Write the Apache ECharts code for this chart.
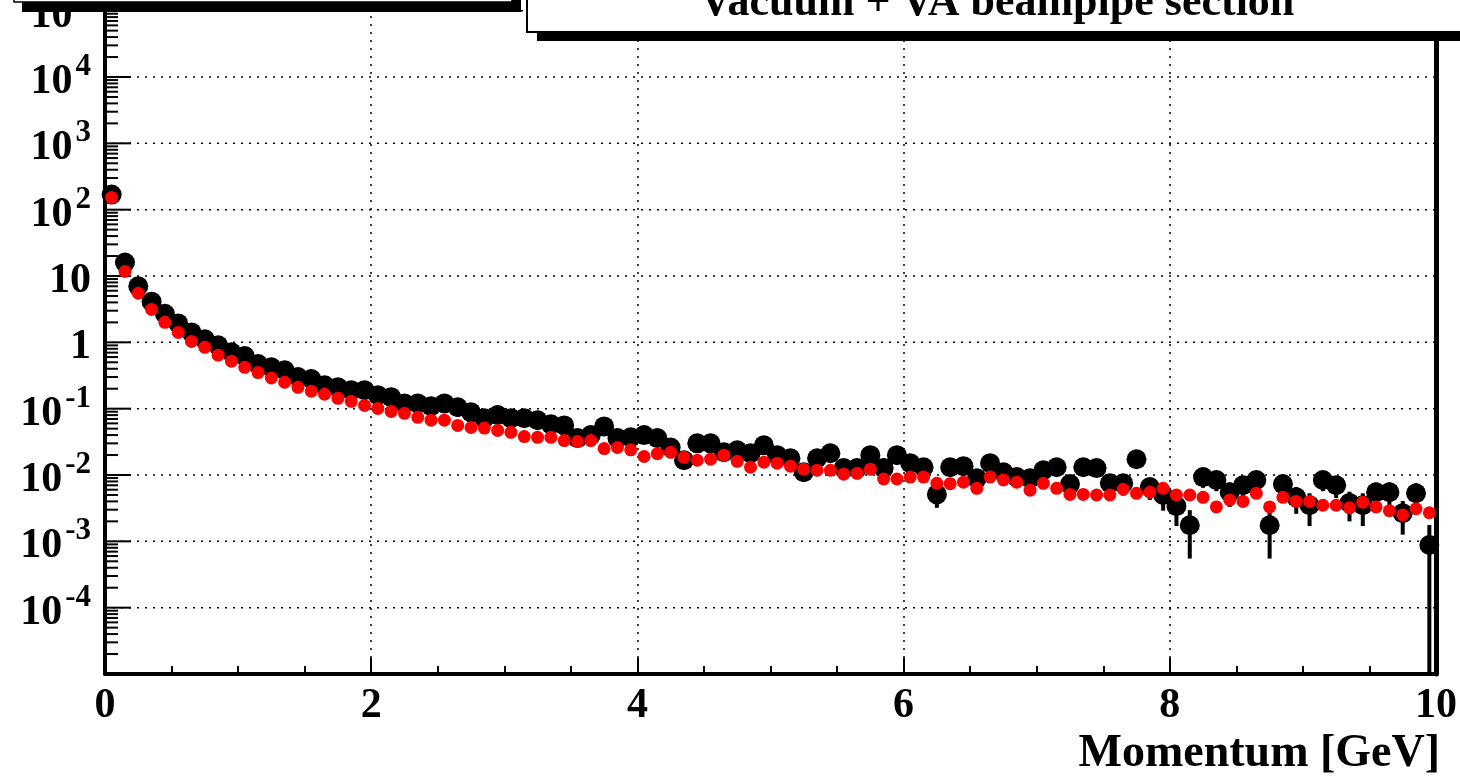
<!DOCTYPE html>
<html><head><meta charset="utf-8">
<script src="https://cdn.jsdelivr.net/npm/echarts@6/dist/echarts.min.js"></script>
<style>html,body{margin:0;padding:0;background:#fff;overflow:hidden}#c{width:1460px;height:777px}</style>
</head><body><div id="c"></div><script>
// Histogram binning (momentum, GeV)
const binLow = 0, binWidth = 0.1;
// Black markers (with statistical error bars)
const black = [169, 16, 7.0, 4.1, 2.7, 1.93, 1.41, 1.11, 0.90, 0.71,
  0.62, 0.47, 0.42, 0.38, 0.30, 0.28, 0.225, 0.21, 0.19, 0.19,
  0.16, 0.149, 0.12, 0.12, 0.109, 0.12, 0.105, 0.088, 0.072, 0.080,
  0.072, 0.072, 0.067, 0.058, 0.056, 0.036, 0.040, 0.054, 0.036, 0.037,
  0.040, 0.036, 0.026, 0.0167, 0.030, 0.030, 0.022, 0.0236, 0.0213, 0.028,
  0.0199, 0.0179, 0.011, 0.0179, 0.0213, 0.0127, 0.0127, 0.0199, 0.0127, 0.0199,
  0.0151, 0.0131, 0.0051, 0.0131, 0.0136, 0.0089, 0.0151, 0.0110, 0.0093, 0.0089,
  0.0118, 0.0131, 0.0073, 0.0131, 0.0127, 0.0075, 0.0075, 0.0173, 0.0066, 0.0050,
  0.0034, 0.00175, 0.0093, 0.0084, 0.0055, 0.0070, 0.0084, 0.00175, 0.0073, 0.0046,
  0.0035, 0.0084, 0.0070, 0.0038, 0.0035, 0.0055, 0.0055, 0.00266, 0.0053, 0.00088];
const blackErr = [0.39, 0.119, 0.078, 0.060, 0.049, 0.041, 0.035, 0.031, 0.028, 0.025,
  0.023, 0.020, 0.019, 0.018, 0.016, 0.016, 0.014, 0.014, 0.013, 0.013,
  0.012, 0.011, 0.010, 0.010, 0.0098, 0.010, 0.0096, 0.0088, 0.0080, 0.0084,
  0.0080, 0.0080, 0.0077, 0.0071, 0.0070, 0.0056, 0.0059, 0.0069, 0.0056, 0.0057,
  0.0059, 0.0056, 0.0048, 0.0038, 0.0051, 0.0051, 0.0044, 0.0046, 0.0043, 0.0050,
  0.0042, 0.0040, 0.0031, 0.0040, 0.0043, 0.0033, 0.0033, 0.0042, 0.0033, 0.0042,
  0.0036, 0.0034, 0.0019, 0.0034, 0.0035, 0.0028, 0.0036, 0.0031, 0.0029, 0.0028,
  0.0032, 0.0034, 0.0025, 0.0034, 0.0033, 0.0026, 0.0026, 0.0039, 0.0024, 0.0021,
  0.0017, 0.0012, 0.0029, 0.0027, 0.0022, 0.0025, 0.0027, 0.0012, 0.0025, 0.0020,
  0.0018, 0.0027, 0.0025, 0.0018, 0.0018, 0.0022, 0.0022, 0.0014, 0.0022, 0.00088];
// Red markers
const red = [152, 11.7, 5.5, 3.14, 2.0, 1.41, 1.03, 0.84, 0.64, 0.52,
  0.42, 0.35, 0.29, 0.25, 0.21, 0.183, 0.165, 0.143, 0.129, 0.112,
  0.101, 0.091, 0.085, 0.074, 0.067, 0.067, 0.056, 0.052, 0.051, 0.047,
  0.044, 0.038, 0.037, 0.037, 0.033, 0.032, 0.033, 0.025, 0.026, 0.024,
  0.019, 0.021, 0.022, 0.0185, 0.0167, 0.0173, 0.0199, 0.0161, 0.0131, 0.0156,
  0.0151, 0.0136, 0.0122, 0.0118, 0.0118, 0.0103, 0.0106, 0.0122, 0.0087, 0.0087,
  0.0093, 0.0093, 0.0075, 0.0074, 0.0078, 0.0063, 0.0093, 0.0084, 0.0078, 0.0059,
  0.0075, 0.0063, 0.0051, 0.0051, 0.0050, 0.0050, 0.0061, 0.0053, 0.0055, 0.0063,
  0.0050, 0.0050, 0.0046, 0.0033, 0.0042, 0.0040, 0.0053, 0.0033, 0.0046, 0.0040,
  0.0040, 0.0035, 0.0035, 0.0032, 0.0039, 0.0033, 0.0029, 0.0025, 0.0031, 0.0027];
const xTicks = [0, 2, 4, 6, 8, 10];
const yRange = [-5, 5.161];                   // log10 of visible axis min / max
const yLabelDecades = [-4, -3, -2, -1, 0, 1, 2, 3, 4, 5];
const xTitle = 'Momentum [GeV]';
const boxTitle = 'Vacuum + VA beampipe section';

const FONT = '"Liberation Serif"';
const BIG = 'bold 42px ' + FONT, SUP = 'bold 31px ' + FONT;
const mctx = document.createElement('canvas').getContext('2d');
function textW(t, f) { mctx.font = f; return mctx.measureText(t).width; }

const centers = black.map((_, i) => +(binLow + (i + 0.5) * binWidth).toFixed(3));
const blackData = black.map((v, i) => [centers[i], v]);
const redData = red.map((v, i) => [centers[i], v]);
const errData = black.map((v, i) => [centers[i], v, blackErr[i]]);
const minorVals = [];
for (let d = -5; d < 6; d++)
  for (let k = 2; k <= 9; k++) minorVals.push([0, k * Math.pow(10, d)]);
const decadeData = yLabelDecades.map(e => [0, Math.pow(10, e), e]);

const chart = echarts.init(document.getElementById('c'), null, {renderer: 'canvas'});
const yMin = Math.pow(10, yRange[0]), yMax = Math.pow(10, yRange[1]);

chart.setOption({
  animation: false,
  backgroundColor: '#fff',
  grid: {left: 105, right: 23, top: 0, bottom: 103, containLabel: false},
  xAxis: {
    type: 'value', min: xTicks[0], max: xTicks[xTicks.length - 1], interval: 2,
    axisLine: {show: true, onZero: false, lineStyle: {color: '#000', width: 4}},
    axisTick: {show: true, inside: true, length: 16, lineStyle: {color: '#000', width: 2}},
    minorTick: {show: true, splitNumber: 4, length: 8, lineStyle: {color: '#000', width: 2}},
    splitLine: {show: true, lineStyle: {color: '#000', width: 1.5, type: [2, 6]}},
    axisLabel: {margin: 11, color: '#000', fontFamily: 'Liberation Serif', fontWeight: 'bold', fontSize: 42,
      formatter: v => String(v)}
  },
  yAxis: [{
    type: 'log', logBase: 10, min: yMin, max: yMax,
    axisLine: {show: true, lineStyle: {color: '#000', width: 4}},
    axisTick: {show: false}, axisLabel: {show: false}, splitLine: {show: false}
  }, {
    type: 'log', logBase: 10, min: yMin, max: yMax, position: 'right',
    axisLine: {show: true, lineStyle: {color: '#000', width: 5}},
    axisTick: {show: false}, axisLabel: {show: false}, splitLine: {show: false}
  }],
  series: [
    { // decade grid lines, major ticks and labels
      type: 'custom', yAxisIndex: 0, z: 1, clip: false, silent: true, data: decadeData,
      renderItem: (params, api) => {
        const cs = params.coordSys;
        const y = api.coord([0, api.value(1)])[1];
        const e = api.value(2);
        const children = [
          {type: 'line', shape: {x1: cs.x, y1: y, x2: cs.x + cs.width, y2: y},
            style: {stroke: '#000', lineWidth: 1.5, lineDash: [2, 6]}},
          {type: 'line', shape: {x1: cs.x, y1: y, x2: cs.x + 26, y2: y},
            style: {stroke: '#000', lineWidth: 2}}
        ];
        const right = cs.x - 14;
        if (e === 0 || e === 1) {
          children.push({type: 'text', x: right, y: y + 5,
            style: {text: e === 0 ? '1' : '10', font: BIG, fill: '#000', align: 'right', verticalAlign: 'middle'}});
        } else {
          const sup = String(e);
          const sw = textW(sup, SUP);
          children.push({type: 'text', x: right - sw - 3, y: y + 5,
            style: {text: '10', font: BIG, fill: '#000', align: 'right', verticalAlign: 'middle'}});
          children.push({type: 'text', x: right, y: y - 10,
            style: {text: sup, font: SUP, fill: '#000', align: 'right', verticalAlign: 'middle'}});
        }
        return {type: 'group', children};
      }
    },
    { // error bars of black series
      type: 'custom', yAxisIndex: 0, z: 2, clip: true, data: errData,
      renderItem: (params, api) => {
        const x = api.value(0), v = api.value(1), e = api.value(2);
        const hi = api.coord([x, v + e]);
        const lo = (v - e) > 0 ? api.coord([x, v - e]) : [hi[0], params.coordSys.y + params.coordSys.height];
        return {type: 'line', shape: {x1: hi[0], y1: hi[1], x2: lo[0], y2: lo[1]},
          style: {stroke: '#000', lineWidth: 4}};
      }
    },
    {type: 'scatter', yAxisIndex: 0, z: 3, data: blackData, symbol: 'circle', symbolSize: 20,
      itemStyle: {color: '#000', opacity: 1}},
    {type: 'scatter', yAxisIndex: 0, z: 4, data: redData, symbol: 'circle', symbolSize: 13,
      itemStyle: {color: '#ff0000', opacity: 1}},
    { // log minor ticks on the left axis
      type: 'custom', yAxisIndex: 0, z: 5, clip: true, data: minorVals, silent: true,
      renderItem: (params, api) => {
        const p = api.coord([api.value(0), api.value(1)]);
        return {type: 'line', shape: {x1: params.coordSys.x, y1: p[1], x2: params.coordSys.x + 13, y2: p[1]},
          style: {stroke: '#000', lineWidth: 2}};
      }
    }
  ],
  graphic: [
    {type: 'rect', z: 100, shape: {x: 22, y: -60, width: 499, height: 72}, style: {fill: '#000'}},
    {type: 'rect', z: 101, shape: {x: 14, y: -60, width: 498, height: 62}, style: {fill: '#fff', stroke: '#000', lineWidth: 1.5}},
    {type: 'rect', z: 100, shape: {x: 537, y: -60, width: 1000, height: 101}, style: {fill: '#000'}},
    {type: 'rect', z: 101, shape: {x: 527, y: -60, width: 1000, height: 92}, style: {fill: '#fff', stroke: '#000', lineWidth: 2}},
    {type: 'text', z: 102, x: 997, y: 4, style: {text: boxTitle, font: 'bold 44px "Liberation Serif"', fill: '#000', align: 'center', verticalAlign: 'middle'}},
    {type: 'text', z: 102, x: 1440, y: 754, style: {text: xTitle, font: 'bold 46px "Liberation Serif"', fill: '#000', align: 'right', verticalAlign: 'middle'}}
  ]
});
</script></body></html>
